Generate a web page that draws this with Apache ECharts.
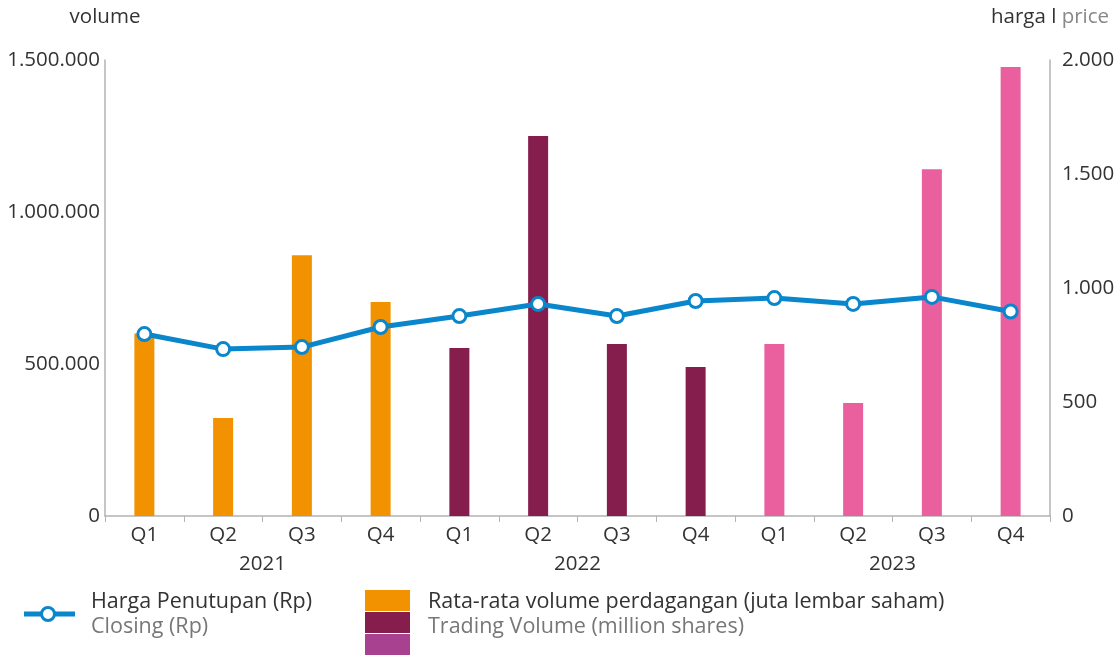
<!DOCTYPE html>
<html>
<head>
<meta charset="utf-8">
<script src="https://cdn.jsdelivr.net/npm/echarts@6/dist/echarts.min.js"></script>
<style>
  html, body { margin: 0; padding: 0; background: #fff; }
  #chart { width: 1120px; height: 655px; }
</style>
</head>
<body>
<div id="chart"></div>
<script>
// quarters and years on the x axis
const quarters = ['Q1', 'Q2', 'Q3', 'Q4', 'Q1', 'Q2', 'Q3', 'Q4', 'Q1', 'Q2', 'Q3', 'Q4']
const years = ['2021', '2022', '2023']
const yearOfBar = [0, 0, 0, 0, 1, 1, 1, 1, 2, 2, 2, 2]

// rata-rata volume perdagangan
const volume = [600000, 322000, 858000, 704000, 553000, 1250000, 566000, 490000, 566000, 372000, 1141000, 1477000]
// harga penutupan (Rp)
const closing = [798, 732, 741, 829, 877, 930, 877, 943, 956, 930, 961, 897]

const leftTicks = [0, 500000, 1000000, 1500000]
const rightTicks = [0, 500, 1000, 1500, 2000]

const yearColors = ['#f39200', '#861e4d', '#ea609e']
const blue = '#0a86cc'
const font = 'Open Sans'
const axisSize = 20.5
const legendFont = '21.5px "Open Sans"'

// 1500000 -> 1.500.000
function fmt(v) {
  return String(v).replace(/\B(?=(\d{3})+(?!\d))/g, '.')
}

const chart = echarts.init(document.getElementById('chart'))

chart.setOption({
  animation: false,
  textStyle: { fontFamily: font },
  grid: { left: 105, right: 70, top: 60, bottom: 139 },
  xAxis: [
    {
      type: 'category',
      data: quarters,
      axisLine: { lineStyle: { color: '#b3b3b3', width: 1.5 } },
      axisTick: { show: true, length: 6, lineStyle: { color: '#b3b3b3' } },
      axisLabel: { color: '#333', fontSize: axisSize, margin: 9 }
    },
    {
      type: 'category',
      data: years,
      position: 'bottom',
      offset: 29,
      axisLine: { show: false },
      axisTick: { show: false },
      axisLabel: { color: '#333', fontSize: axisSize, margin: 9 }
    }
  ],
  yAxis: [
    {
      type: 'value',
      min: leftTicks[0],
      max: leftTicks[leftTicks.length - 1],
      interval: 500000,
      name: 'volume',
      nameLocation: 'end',
      nameGap: 32,
      nameTextStyle: { color: '#333', fontSize: axisSize, align: 'center' },
      axisLine: { show: true, lineStyle: { color: '#b3b3b3', width: 1.5 } },
      axisTick: { show: false },
      splitLine: { show: false },
      axisLabel: { color: '#333', fontSize: axisSize, margin: 5, formatter: fmt }
    },
    {
      type: 'value',
      min: rightTicks[0],
      max: rightTicks[rightTicks.length - 1],
      interval: 500,
      name: '{a|harga l }{b|price}',
      nameLocation: 'end',
      nameGap: 32,
      nameTextStyle: {
        align: 'center',
        rich: {
          a: { color: '#333', fontSize: axisSize, fontFamily: font },
          b: { color: '#888', fontSize: axisSize, fontFamily: font }
        }
      },
      axisLine: { show: true, lineStyle: { color: '#b3b3b3', width: 1.5 } },
      axisTick: { show: false },
      splitLine: { show: false },
      axisLabel: { color: '#333', fontSize: axisSize, margin: 12, formatter: fmt }
    }
  ],
  series: [
    {
      name: 'Trading Volume',
      type: 'bar',
      yAxisIndex: 0,
      barWidth: 20,
      data: volume.map((v, i) => ({ value: v, itemStyle: { color: yearColors[yearOfBar[i]] } }))
    },
    {
      name: 'Closing',
      type: 'line',
      yAxisIndex: 1,
      data: closing,
      symbol: 'circle',
      symbolSize: 13,
      lineStyle: { color: blue, width: 5 },
      itemStyle: { color: '#fff', borderColor: blue, borderWidth: 3 },
      z: 5
    }
  ],
  // legend drawn by hand
  graphic: [
    { type: 'line', shape: { x1: 24, y1: 614, x2: 75, y2: 614 }, style: { stroke: blue, lineWidth: 5 } },
    { type: 'circle', shape: { cx: 48, cy: 614, r: 6.5 }, style: { fill: '#fff', stroke: blue, lineWidth: 3 } },
    { type: 'text', left: 91, top: 591, style: { text: 'Harga Penutupan (Rp)', fill: '#333', font: legendFont } },
    { type: 'text', left: 91, top: 616, style: { text: 'Closing (Rp)', fill: '#777', font: legendFont } },
    { type: 'rect', shape: { x: 365, y: 590, width: 45, height: 21 }, style: { fill: yearColors[0] } },
    { type: 'rect', shape: { x: 365, y: 612, width: 45, height: 21 }, style: { fill: yearColors[1] } },
    { type: 'rect', shape: { x: 365, y: 634, width: 45, height: 21 }, style: { fill: '#a8418f' } },
    { type: 'text', left: 428, top: 591, style: { text: 'Rata-rata volume perdagangan (juta lembar saham)', fill: '#333', font: legendFont } },
    { type: 'text', left: 428, top: 616, style: { text: 'Trading Volume (million shares)', fill: '#777', font: legendFont } }
  ]
})
</script>
</body>
</html>
